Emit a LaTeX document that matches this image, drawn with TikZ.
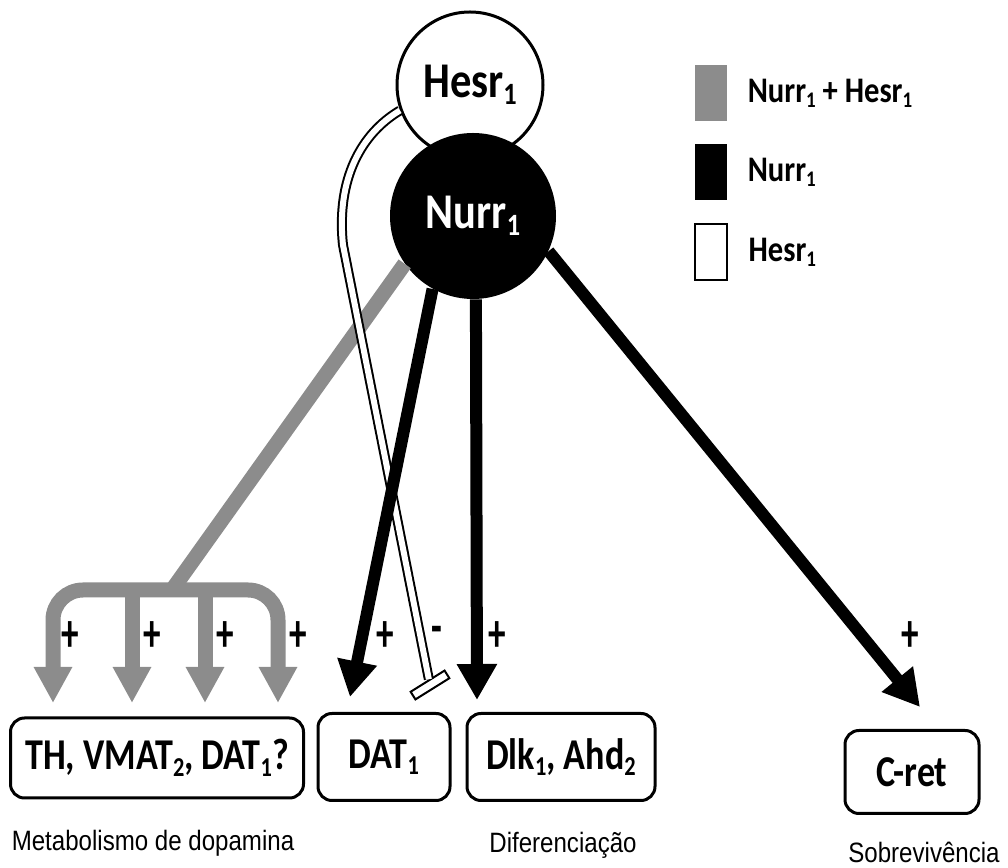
\documentclass[tikz,border=0pt]{standalone}
\usepackage{fontspec}
\usepackage{graphicx}
\setmainfont{Carlito}
\newfontfamily\boxfont[FakeStretch=0.82]{Carlito}
\newfontfamily\circfont[FakeStretch=0.85]{Carlito}
\newfontfamily\signfont[FakeStretch=0.65]{Carlito}
\newfontfamily\capfont[FakeStretch=0.86]{Liberation Sans}
\newcommand{\lo}[1]{\raisebox{-0.3ex}{\scalebox{0.62}{#1}}}
\usetikzlibrary{arrows.meta,positioning,shapes}
\definecolor{nhgray}{RGB}{140,140,140}

\begin{document}
\begin{tikzpicture}[x=0.5pt,y=0.5pt]
		\tikzstyle{gene}=[draw,line width=1.5pt,rounded corners=7pt,inner sep=0pt,font=\boxfont\bfseries\fontsize{22}{24}\selectfont]
		\tikzstyle{caption}=[inner sep=0pt,font=\capfont\fontsize{14}{16}\selectfont]
		\tikzstyle{key}=[minimum width=16pt,minimum height=28pt,inner sep=0pt]
		\tikzstyle{legtext}=[inner sep=0pt,font=\circfont\bfseries\fontsize{18}{20}\selectfont]
		\tikzstyle{sign}=[inner sep=0pt,font=\signfont\bfseries\fontsize{27}{27}\selectfont]
		\tikzstyle{nhline}=[line width=7.5pt,nhgray]
		\tikzstyle{nharm}=[nhline,-{Triangle[length=18pt,width=18pt]}]
		\tikzstyle{act}=[line width=6pt,-{Triangle[length=18pt,width=19pt]}]
		\tikzstyle{inhib}=[double=white,double distance=3pt,line width=1pt]
		\tikzstyle{tbar}=[draw,fill=white,line width=1pt,minimum width=20pt,minimum height=4.5pt,inner sep=0pt]
		
		\useasboundingbox (0,0) rectangle (1008,868);
		
		% factors
		\node[circle,draw,line width=1.5pt,fill=white,minimum size=73pt,inner sep=0pt,
		      font=\circfont\bfseries\fontsize{25}{27}\selectfont] (hesr) at (470,783) {Hesr\lo{1}};
		\node[circle,fill=black,text=white,minimum size=83pt,inner sep=0pt,
		      font=\circfont\bfseries\fontsize{25}{27}\selectfont] (nurr) at (473,652) {Nurr\lo{1}};
		
		% legend
		\node[key,fill=nhgray] (kboth) at (711,775) {};
		\node[key,fill=black] (knurr) at (711,696) {};
		\node[key,draw,line width=1.2pt,fill=white] (khesr) at (711,616) {};
		\node[legtext,right=10pt of kboth] (lboth) {Nurr\lo{1} + Hesr\lo{1}};
		\node[legtext,right=10pt of knurr] (lnurr) {Nurr\lo{1}};
		\node[legtext,right=10pt of khesr] (lhesr) {Hesr\lo{1}};
		
		% targets
		\node[gene,minimum width=146.5pt,minimum height=40pt] (th) at (157,110) {TH, VMAT\lo{2}, DAT\lo{1}?};
		\node[gene,minimum width=66pt,minimum height=43.5pt] (dat) at (384,111) {DAT\lo{1}};
		\node[gene,minimum width=94pt,minimum height=43.5pt] (dlk) at (561,111) {Dlk\lo{1}, Ahd\lo{2}};
		\node[gene,minimum width=67pt,minimum height=41.5pt] (cret) at (912,96) {C-ret};
		
		\node[caption] (cmeta) at (153,25) {Metabolismo de dopamina};
		\node[caption] (cdif) at (563,23) {Diferenciação};
		\node[caption] (csob) at (924,16) {Sobrevivência};
		
		\coordinate (jn) at (172,278);
		\coordinate (g1) at (53,165);
		\coordinate (g2) at (132,165);
		\coordinate (g3) at (205,165);
		\coordinate (g4) at (278,165);
		\coordinate (tdat) at (350,171);
		\coordinate (tdlk) at (477,168);
		\coordinate (tcret) at (920,161);
		
		% Nurr1 + Hesr1
		\draw[nhline] (nurr.215) -- (jn);
		\draw[nhline,rounded corners=15pt,{Triangle[length=18pt,width=18pt]}-{Triangle[length=18pt,width=18pt]}] (g1) |- (jn) -| (g4);
		\draw[nharm] (g2 |- jn) -- (g2);
		\draw[nharm] (g3 |- jn) -- (g3);
		
		% Hesr1
		\node[tbar,rotate=32] (bar) at (430,183) {};
		\draw[inhib] (hesr.200) .. controls (362,735) and (336,690) .. (343,623) -- (bar);
		
		% Nurr1
		\draw[act] (nurr.241) -- (tdat);
		\draw[act] (nurr.272) -- (tdlk);
		\draw[act] (nurr.335) -- (tcret);
		
		\node[sign] (s1) at (70,231) {+};
		\node[sign] (s2) at (152,231) {+};
		\node[sign] (s3) at (225,231) {+};
		\node[sign] (s4) at (298,231) {+};
		\node[sign] (s5) at (385,231) {+};
		\node[sign] (s6) at (437,233) {-};
		\node[sign] (s7) at (497,231) {+};
		\node[sign] (s8) at (910,231) {+};
\end{tikzpicture}
\end{document}
